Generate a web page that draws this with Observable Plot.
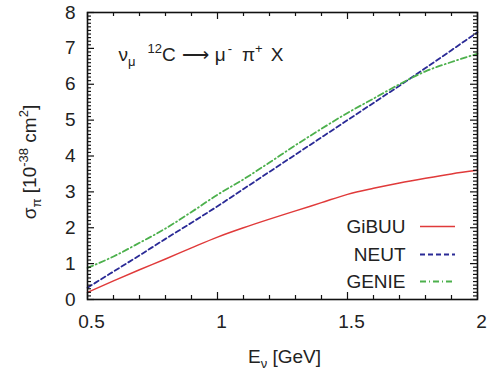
<!DOCTYPE html>
<html>
<head>
<meta charset="utf-8">
<script src="https://cdn.jsdelivr.net/npm/d3@7"></script>
<script src="https://cdn.jsdelivr.net/npm/@observablehq/plot@0.6"></script>
<style>
  html, body { margin: 0; padding: 0; background: #fff; }
</style>
</head>
<body>
<div id="chart"></div>
<script>
// ---- data ----
const energy = [0.5, 0.6, 0.7, 0.8, 0.9, 1.0, 1.1, 1.2, 1.3, 1.4, 1.5, 1.6, 1.7, 1.8, 1.9, 2.0];
const gibuu  = [0.20, 0.52, 0.83, 1.13, 1.44, 1.74, 2.00, 2.24, 2.47, 2.70, 2.93, 3.10, 3.25, 3.38, 3.50, 3.60];
const neut   = [0.33, 0.78, 1.23, 1.69, 2.14, 2.60, 3.08, 3.56, 4.04, 4.52, 5.00, 5.48, 5.96, 6.45, 6.95, 7.45];
const genie  = [0.88, 1.20, 1.58, 1.98, 2.44, 2.92, 3.35, 3.82, 4.30, 4.76, 5.20, 5.60, 6.00, 6.36, 6.62, 6.85];

const seriesNames = ["GiBUU", "NEUT", "GENIE"];
const seriesColors = ["#e03a3a", "#2a2a96", "#4cb04c"];
const seriesDash = [null, "5,3", "6,3,1,3"];

const xMajor = [0.5, 1, 1.5, 2];
const yMajor = [0, 1, 2, 3, 4, 5, 6, 7, 8];
const xMinor = d3.range(5, 21).map(i => i / 10);
const yMinor = d3.range(0, 81).map(i => i / 10);

// ---- layout ----
const W = 488, H = 373;
const mL = 87, mR = 11, mT = 12, mB = 74;
const xDom = [0.5, 2], yDom = [0, 8];
const pxX = (xDom[1] - xDom[0]) / (W - mL - mR);
const pxY = (yDom[1] - yDom[0]) / (H - mT - mB);
const px2x = px => xDom[0] + (px - mL) * pxX;
const px2y = py => yDom[0] + (H - mB - py) * pxY;

const rows = [];
energy.forEach((e, i) => {
  rows.push({E: e, v: gibuu[i], s: "GiBUU"});
  rows.push({E: e, v: neut[i], s: "NEUT"});
  rows.push({E: e, v: genie[i], s: "GENIE"});
});

const isMajX = d => Math.abs(d * 2 - Math.round(d * 2)) < 1e-6;
const isMajY = d => Math.abs(d - Math.round(d)) < 1e-6;
const tickCol = "#111";

const marks = [];
// curves
seriesNames.forEach((name, k) => {
  marks.push(Plot.line(rows.filter(r => r.s === name), {
    x: "E", y: "v", stroke: seriesColors[k], strokeWidth: k === 0 ? 1.5 : 1.8,
    strokeDasharray: seriesDash[k], curve: "monotone-x"
  }));
});
// ticks inward on all four sides
marks.push(Plot.ruleX(xMinor, {x: d => d, y1: yDom[0], y2: d => yDom[0] + (isMajX(d) ? 7 : 4) * pxY, stroke: tickCol, strokeWidth: 1.2}));
marks.push(Plot.ruleX(xMinor, {x: d => d, y1: yDom[1], y2: d => yDom[1] - (isMajX(d) ? 7 : 4) * pxY, stroke: tickCol, strokeWidth: 1.2}));
marks.push(Plot.ruleY(yMinor, {y: d => d, x1: xDom[0], x2: d => xDom[0] + (isMajY(d) ? 7 : 4) * pxX, stroke: tickCol, strokeWidth: 1.2}));
marks.push(Plot.ruleY(yMinor, {y: d => d, x1: xDom[1], x2: d => xDom[1] - (isMajY(d) ? 7 : 4) * pxX, stroke: tickCol, strokeWidth: 1.2}));
marks.push(Plot.frame({stroke: tickCol, strokeWidth: 1.6}));
// tick labels
marks.push(Plot.axisX({ticks: xMajor, tickSize: 0, tickPadding: 15, fontSize: 19, dx: 4, tickFormat: d => String(d), label: null}));
marks.push(Plot.axisY({ticks: yMajor, tickSize: 0, tickPadding: 12, fontSize: 19, tickFormat: d => String(d), label: null}));
// axis titles (rich text filled in after render)
marks.push(Plot.text(["XLABEL"], {frameAnchor: "bottom", dx: 2, dy: 57, text: d => d, fontSize: 19, textAnchor: "middle", lineAnchor: "middle"}));
marks.push(Plot.text(["YLABEL"], {frameAnchor: "left", dx: -58, dy: 6, rotate: -90, text: d => d, fontSize: 19, textAnchor: "middle", lineAnchor: "middle"}));
// annotation
marks.push(Plot.text(["ANNOT"], {x: px2x(118), y: px2y(60), text: d => d, fontSize: 19, textAnchor: "start", lineAnchor: "bottom"}));
// legend
const legRowY = [226, 254, 281];
seriesNames.forEach((name, k) => {
  marks.push(Plot.text([name], {x: px2x(405), y: px2y(legRowY[k]), text: d => d, fontSize: 19, textAnchor: "end", lineAnchor: "middle"}));
  marks.push(Plot.ruleY([px2y(legRowY[k])], {y: d => d, x1: px2x(420), x2: px2x(455), stroke: seriesColors[k], strokeWidth: k === 0 ? 1.5 : 1.8, strokeDasharray: seriesDash[k]}));
});

const chart = Plot.plot({
  width: W, height: H,
  marginLeft: mL, marginRight: mR, marginTop: mT, marginBottom: mB,
  x: {domain: xDom},
  y: {domain: yDom},
  style: {fontFamily: "'Liberation Sans', Arial, Helvetica, sans-serif", color: "#222", background: "#fff"},
  marks
});
document.getElementById("chart").appendChild(chart);

// rich text with sub/superscripts
function rich(key, parts) {
  d3.select(chart).selectAll("text").filter(function () { return this.textContent === key; }).each(function () {
    const t = d3.select(this);
    t.text(null);
    let shift = 0;
    for (const p of parts) {
      const s = p.sub ? 5 : p.sup ? -8 : 0;
      const ts = t.append("tspan").text(p.t).attr("dy", s - shift);
      if (p.sub || p.sup) ts.attr("font-size", 13);
      if (p.dx) ts.attr("dx", p.dx);
      if (p.fs) ts.attr("font-size", p.fs);
      shift = s;
    }
  });
}
rich("XLABEL", [{t: "E"}, {t: "ν", sub: 1}, {t: " [GeV]"}]);
rich("YLABEL", [{t: "σ"}, {t: "π", sub: 1}, {t: " [10"}, {t: "-38", sup: 1}, {t: " cm"}, {t: "2", sup: 1}, {t: "]"}]);
rich("ANNOT", [{t: "ν"}, {t: "μ", sub: 1}, {t: "12", sup: 1, dx: 12}, {t: "C"}, {t: "⟶", dx: 6}, {t: "μ", dx: 6}, {t: "-", sup: 1, dx: 2}, {t: "π", dx: 10}, {t: "+", sup: 1}, {t: "X", dx: 8}]);
</script>
</body>
</html>
